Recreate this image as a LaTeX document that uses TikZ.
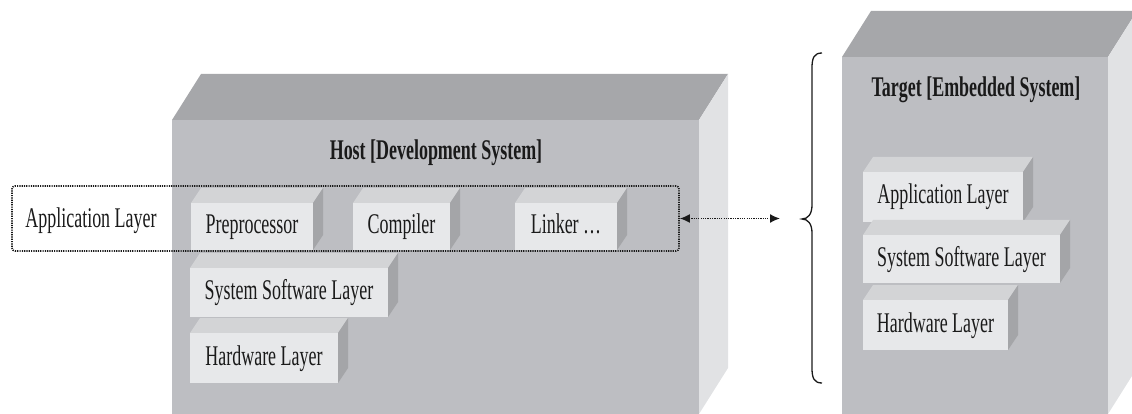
\documentclass[tikz,border=0pt]{standalone}
\usepackage{fontspec}
\setmainfont{Liberation Serif}[FakeStretch=0.63]
\usetikzlibrary{arrows.meta}

\definecolor{ink}{HTML}{1A1A1A}
\definecolor{boxfront}{HTML}{BDBEC2}
\definecolor{boxtop}{HTML}{A6A7AA}
\definecolor{boxside}{HTML}{E1E2E4}
\definecolor{slabfront}{HTML}{E7E8EA}
\definecolor{slabtop}{HTML}{D3D4D6}
\definecolor{slabside}{HTML}{A4A5A8}

% a raised layer block: name, left, top, right, bottom, label
\newcommand\slab[6]{%
  \fill[slabtop] (#2,#3) -- ++(10,-15) -- ({#4+10},{#3-15}) -- (#4,#3) -- cycle;
  \fill[slabside] (#4,#3) -- ({#4+10},{#3-15}) -- ({#4+10},{#5-15}) -- (#4,#5) -- cycle;
  \node[layer, minimum width={#4pt-#2pt}, minimum height={#5pt-#3pt}]
    (#1) at ({(#2+#4)/2},{(#3+#5)/2}) {#6};}

% a large system cabinet: name, left, top, right, bottom
\newcommand\cabinet[5]{%
  \fill[boxtop] (#2,#3) -- ++(29,-46) -- ({#4+29},{#3-46}) -- (#4,#3) -- cycle;
  \fill[boxside] (#4,#3) -- ({#4+29},{#3-46}) -- ({#4+29},{#5-46}) -- (#4,#5) -- cycle;
  \node[fill=boxfront, inner sep=0pt, minimum width={#4pt-#2pt}, minimum height={#5pt-#3pt}]
    (#1) at ({(#2+#4)/2},{(#3+#5)/2}) {};}

\begin{document}
\begin{tikzpicture}[x=1pt, y=-1pt,
  layer/.style={fill=slabfront, inner sep=0pt, text=ink,
    font=\fontsize{28.5}{30}\selectfont, text height=20pt, text depth=6pt},
  plain/.style={text=ink, inner sep=0pt, font=\fontsize{28.5}{30}\selectfont},
  title/.style={text=ink, inner sep=0pt, font=\bfseries\fontsize{28.5}{30}\selectfont},
  group/.style={draw=ink, line width=1.6pt, dash pattern=on 1.2pt off 1.1pt,
    rounded corners=3pt, inner sep=0pt},
  link/.style={draw=ink, line width=1.6pt, dash pattern=on 1.2pt off 1.1pt,
    {Latex[length=10pt,width=9pt]}-{Latex[length=10pt,width=9pt]}},
  bracket/.style={draw=ink, line width=1.3pt}]

\useasboundingbox (0,0) rectangle (1132,414);
\clip (0,0) rectangle (1132,414);

% host machine
\cabinet{host}{172}{120}{699}{414}
\node[title, anchor=base] (hosttitle) at (436,160) {Host [Development System]};
\slab{pre}{191}{203}{313}{250}{Preprocessor}
\slab{comp}{353}{203}{450}{250}{Compiler}
\slab{link}{515}{203}{617}{250}{Linker \dots}
\slab{hsys}{190}{268}{388}{317}{System Software Layer}
\slab{hhw}{190}{333}{338}{383}{Hardware Layer}

% target machine
\cabinet{target}{842}{57}{1108}{414}
\node[title, anchor=base] (targettitle) at (976,97) {Target [Embedded System]};
\slab{tapp}{863}{172}{1023}{222}{Application Layer}
\slab{tsys}{863}{235}{1060}{283}{System Software Layer}
\slab{thw}{863}{300}{1008}{350}{Hardware Layer}

% host application layer grouping
\node[group, minimum width=667pt, minimum height=65pt] (appgrp) at (345.5,218.5) {};
\node[plain, anchor=base] (applabel) at (91,227) {Application Layer};

% transfer to the target
\coordinate (arrowend) at (780,218.5);
\draw[link] (appgrp.east) -- (arrowend);

% brace spanning the target
\draw[bracket] (822,53) .. controls (814,53) and (812,58) .. (812,68)
  -- (812,205) .. controls (812,214) and (808,219) .. (802,219)
  .. controls (808,219) and (812,224) .. (812,233)
  -- (812,368) .. controls (812,378) and (814,383) .. (822,383);
\end{tikzpicture}
\end{document}
